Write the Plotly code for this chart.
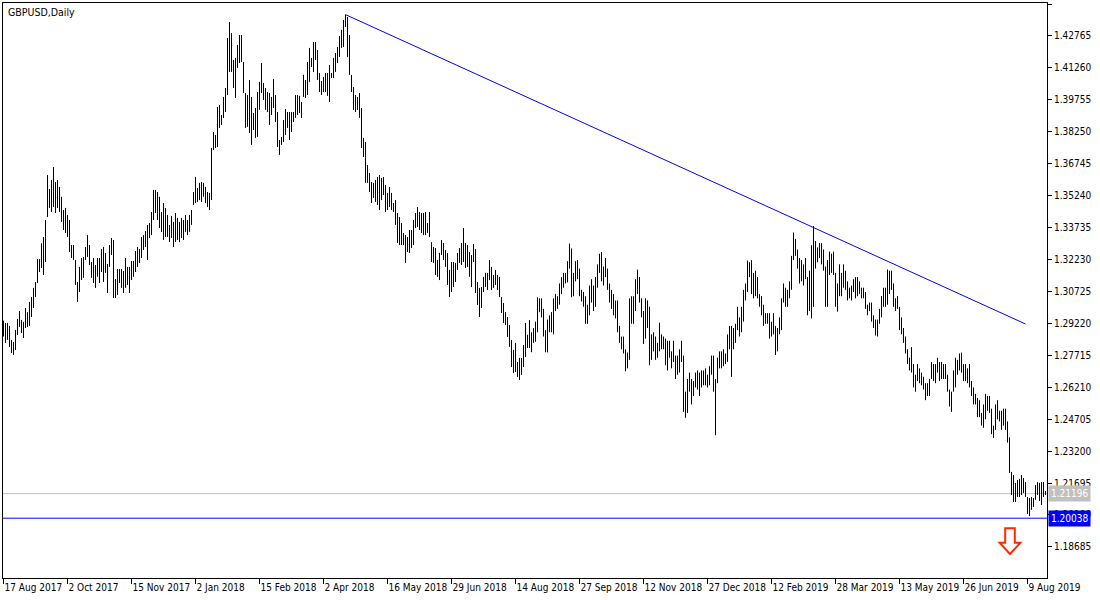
import plotly.graph_objects as go

# ---------------- data ----------------
chart_title = "GBPUSD,Daily"

x_tick_labels = ["17 Aug 2017", "2 Oct 2017", "15 Nov 2017", "2 Jan 2018", "15 Feb 2018",
                 "2 Apr 2018", "16 May 2018", "29 Jun 2018", "14 Aug 2018", "27 Sep 2018",
                 "12 Nov 2018", "27 Dec 2018", "12 Feb 2019", "28 Mar 2019", "13 May 2019",
                 "26 Jun 2019", "9 Aug 2019"]
x_tick_bars = [0, 32, 64, 96, 128, 160, 192, 224, 256, 288, 320, 352, 384, 416, 448, 480, 512]

y_tick_values = [1.44270, 1.42765, 1.41260, 1.39755, 1.38250, 1.36745, 1.35240, 1.33735,
                 1.32230, 1.30725, 1.29220, 1.27715, 1.26210, 1.24705, 1.23200, 1.21695,
                 1.20190, 1.18685]

highs = [
    1.2935,
    1.2924, 1.2924, 1.2910, 1.2844, 1.2834, 1.2891, 1.2943, 1.2980, 1.2938, 1.2929,
    1.2994, 1.2975, 1.3023, 1.3046, 1.3089, 1.3117, 1.3225, 1.3225, 1.3300, 1.3329,
    1.3409, 1.3621, 1.3555, 1.3598, 1.3659, 1.3588, 1.3598, 1.3565, 1.3518, 1.3456,
    1.3466, 1.3433, 1.3409, 1.3291, 1.3291, 1.3221, 1.3117, 1.3188, 1.3230, 1.3235,
    1.3282, 1.3338, 1.3291, 1.3211, 1.3230, 1.3197, 1.3230, 1.3230, 1.3272, 1.3282,
    1.3254, 1.3202, 1.3291, 1.3324, 1.3315, 1.3131, 1.3178, 1.3178, 1.3178, 1.3169,
    1.3230, 1.3188, 1.3188, 1.3216, 1.3216, 1.3263, 1.3282, 1.3272, 1.3329, 1.3338,
    1.3357, 1.3386, 1.3395, 1.3447, 1.3551, 1.3551, 1.3541, 1.3518, 1.3447, 1.3489,
    1.3466, 1.3433, 1.3386, 1.3428, 1.3400, 1.3442, 1.3419, 1.3400, 1.3419, 1.3409,
    1.3433, 1.3409, 1.3433, 1.3456, 1.3541, 1.3612, 1.3560, 1.3584, 1.3588, 1.3584,
    1.3565, 1.3541, 1.3537, 1.3748, 1.3824, 1.3810, 1.3942, 1.3951, 1.3904, 1.3989,
    1.4031, 1.4267, 1.4342, 1.4290, 1.4163, 1.4173, 1.4234, 1.4281, 1.4281, 1.4154,
    1.4008, 1.3998, 1.4069, 1.3989, 1.3913, 1.3937, 1.4012, 1.4060, 1.4149, 1.4055,
    1.4031, 1.4012, 1.4008, 1.3989, 1.4074, 1.3998, 1.3918, 1.3786, 1.3800, 1.3880,
    1.3932, 1.3918, 1.3918, 1.3918, 1.3918, 1.3998, 1.3998, 1.3994, 1.3965, 1.4093,
    1.4069, 1.4154, 1.4220, 1.4173, 1.4248, 1.4248, 1.4210, 1.4102, 1.4064, 1.4083,
    1.4102, 1.4102, 1.4140, 1.4102, 1.4173, 1.4196, 1.4224, 1.4276, 1.4305, 1.4352,
    1.4377, 1.4366, 1.4281, 1.4093, 1.4036, 1.3998, 1.3989, 1.4008, 1.3937, 1.3796,
    1.3777, 1.3668, 1.3631, 1.3588, 1.3584, 1.3598, 1.3612, 1.3621, 1.3607, 1.3612,
    1.3574, 1.3537, 1.3565, 1.3537, 1.3489, 1.3503, 1.3442, 1.3423, 1.3395, 1.3348,
    1.3338, 1.3329, 1.3362, 1.3362, 1.3409, 1.3442, 1.3470, 1.3447, 1.3442, 1.3442,
    1.3447, 1.3395, 1.3447, 1.3305, 1.3282, 1.3277, 1.3221, 1.3254, 1.3315, 1.3301,
    1.3268, 1.3254, 1.3174, 1.3211, 1.3211, 1.3207, 1.3254, 1.3277, 1.3301, 1.3371,
    1.3301, 1.3291, 1.3258, 1.3244, 1.3296, 1.3272, 1.3117, 1.3089, 1.3093, 1.3141,
    1.3160, 1.3160, 1.3221, 1.3188, 1.3150, 1.3174, 1.3150, 1.3141, 1.3046, 1.3018,
    1.2975, 1.2952, 1.2914, 1.2844, 1.2797, 1.2830, 1.2740, 1.2759, 1.2759, 1.2820,
    1.2924, 1.2868, 1.2938,
    1.2880, 1.2900, 1.2930, 1.3045, 1.3040, 1.3040, 1.2990, 1.2890, 1.2940, 1.2960,
    1.2975, 1.3040, 1.3060, 1.3050, 1.3110, 1.3140, 1.3160, 1.3160, 1.3215, 1.3298,
    1.3275, 1.3160, 1.3215, 1.3220, 1.3180, 1.3080, 1.3070, 1.3050, 1.3010, 1.3100,
    1.3130, 1.3100, 1.3140, 1.3200, 1.3250, 1.3258, 1.3190, 1.3230, 1.3180, 1.3110,
    1.3080, 1.3060, 1.3030, 1.3030, 1.2910, 1.2860, 1.2860, 1.2800, 1.2785, 1.3040,
    1.3050, 1.3050, 1.3130, 1.3175, 1.3140, 1.3040, 1.2980, 1.3040, 1.3030, 1.3000,
    1.2870, 1.2880, 1.2860, 1.2830, 1.2925, 1.2870, 1.2860, 1.2850, 1.2840, 1.2840,
    1.2790, 1.2840, 1.2770, 1.2770, 1.2800, 1.2840, 1.2770, 1.2600, 1.2660, 1.2690,
    1.2660, 1.2650, 1.2690, 1.2700, 1.2690, 1.2700, 1.2700, 1.2710, 1.2680, 1.2720,
    1.2770, 1.2770, 1.2660, 1.2760, 1.2790, 1.2790, 1.2800, 1.2780, 1.2870, 1.2910,
    1.2910, 1.2900, 1.2920, 1.3000, 1.2950, 1.3000, 1.3080, 1.3110, 1.3218, 1.3210,
    1.3220, 1.3160, 1.3170, 1.3140, 1.3060, 1.3050, 1.3010, 1.2970, 1.2970, 1.2970,
    1.2930, 1.2970, 1.2910, 1.2900, 1.2950, 1.3040, 1.3110, 1.3090, 1.3080, 1.3120,
    1.3240, 1.3350, 1.3320, 1.3270, 1.3230, 1.3220, 1.3200, 1.3230, 1.3140, 1.3170,
    1.3290, 1.3381, 1.3310, 1.3280, 1.3300, 1.3300, 1.3270, 1.3190, 1.3220, 1.3260,
    1.3250, 1.3260, 1.3160, 1.3110, 1.3200, 1.3160, 1.3200, 1.3170, 1.3120, 1.3090,
    1.3100, 1.3130, 1.3140, 1.3140, 1.3120, 1.3090, 1.3090, 1.3070, 1.3010, 1.3020,
    1.3020, 1.2960, 1.2940, 1.2940, 1.2990, 1.3050, 1.3090, 1.3090, 1.3176, 1.3170,
    1.3170, 1.3110, 1.3040, 1.3050, 1.3000, 1.2950, 1.2900, 1.2860, 1.2800, 1.2760,
    1.2810, 1.2730, 1.2680, 1.2730, 1.2710, 1.2690, 1.2670, 1.2640, 1.2640, 1.2660,
    1.2740, 1.2730, 1.2730, 1.2760, 1.2740, 1.2740, 1.2730, 1.2730, 1.2680, 1.2610,
    1.2600, 1.2700, 1.2760, 1.2750, 1.2780, 1.2784, 1.2730, 1.2730, 1.2710, 1.2730,
    1.2650, 1.2620, 1.2590, 1.2570, 1.2560, 1.2500, 1.2540, 1.2590, 1.2580, 1.2580,
    1.2520, 1.2440, 1.2540, 1.2560, 1.2510, 1.2510, 1.2520, 1.2520, 1.2460,
    1.2385, 1.2222, 1.2207, 1.2170, 1.2184, 1.2189, 1.2207, 1.2193, 1.2174, 1.2104,
    1.2099, 1.2104, 1.2099, 1.2160, 1.2174, 1.2170, 1.2174, 1.2174, 1.2132,
]

lows = [
    1.2860,
    1.2830, 1.2844, 1.2811, 1.2782, 1.2773, 1.2797, 1.2867, 1.2905, 1.2877, 1.2853,
    1.2900, 1.2905, 1.2910, 1.2952, 1.2994, 1.3046, 1.3112, 1.3164, 1.3183, 1.3150,
    1.3211, 1.3423, 1.3466, 1.3447, 1.3470, 1.3442, 1.3466, 1.3447, 1.3400, 1.3362,
    1.3348, 1.3329, 1.3258, 1.3230, 1.3221, 1.3103, 1.3023, 1.3070, 1.3126, 1.3136,
    1.3221, 1.3235, 1.3197, 1.3136, 1.3112, 1.3089, 1.3141, 1.3112, 1.3164, 1.3117,
    1.3160, 1.3065, 1.3188, 1.3244, 1.3042, 1.3042, 1.3056, 1.3112, 1.3089, 1.3065,
    1.3089, 1.3103, 1.3065, 1.3126, 1.3141, 1.3164, 1.3188, 1.3206, 1.3230, 1.3268,
    1.3282, 1.3221, 1.3324, 1.3338, 1.3409, 1.3442, 1.3409, 1.3371, 1.3353, 1.3315,
    1.3329, 1.3329, 1.3305, 1.3324, 1.3282, 1.3305, 1.3315, 1.3305, 1.3324, 1.3315,
    1.3353, 1.3338, 1.3353, 1.3386, 1.3480, 1.3489, 1.3494, 1.3503, 1.3494, 1.3518,
    1.3489, 1.3470, 1.3456, 1.3503, 1.3739, 1.3748, 1.3753, 1.3843, 1.3857, 1.3890,
    1.3918, 1.3998, 1.4107, 1.4107, 1.4031, 1.3984, 1.4126, 1.4149, 1.4154, 1.4008,
    1.3843, 1.3848, 1.3819, 1.3763, 1.3833, 1.3796, 1.3801, 1.3928, 1.4008, 1.3975,
    1.3928, 1.3918, 1.3857, 1.3904, 1.3937, 1.3871, 1.3753, 1.3716, 1.3763, 1.3777,
    1.3810, 1.3843, 1.3786, 1.3824, 1.3871, 1.3890, 1.3904, 1.3913, 1.3890, 1.3989,
    1.3984, 1.3998, 1.4060, 1.4130, 1.4107, 1.4163, 1.4069, 1.4012, 1.3998, 1.4012,
    1.4012, 1.3994, 1.3965, 1.4078, 1.4078, 1.4107, 1.4149, 1.4177, 1.4220, 1.4224,
    1.4319, 1.4177, 1.4093, 1.4012, 1.3928, 1.3918, 1.3928, 1.3890, 1.3748, 1.3706,
    1.3584, 1.3584, 1.3541, 1.3489, 1.3513, 1.3494, 1.3480, 1.3456, 1.3503, 1.3527,
    1.3447, 1.3456, 1.3470, 1.3456, 1.3447, 1.3386, 1.3301, 1.3291, 1.3291, 1.3291,
    1.3207, 1.3258, 1.3254, 1.3277, 1.3291, 1.3371, 1.3376, 1.3362, 1.3348, 1.3338,
    1.3338, 1.3348, 1.3329, 1.3211, 1.3207, 1.3150, 1.3141, 1.3126, 1.3244, 1.3221,
    1.3188, 1.3103, 1.3046, 1.3070, 1.3093, 1.3117, 1.3174, 1.3207, 1.3197, 1.3211,
    1.3183, 1.3188, 1.3141, 1.3093, 1.3211, 1.3065, 1.3009, 1.2952, 1.2994, 1.3070,
    1.3093, 1.3079, 1.3126, 1.3079, 1.3089, 1.3103, 1.3079, 1.3046, 1.2971, 1.2924,
    1.2914, 1.2858, 1.2811, 1.2716, 1.2688, 1.2693, 1.2669, 1.2655, 1.2679, 1.2716,
    1.2763, 1.2806, 1.2806,
    1.2786, 1.2830, 1.2835, 1.2880, 1.2975, 1.2950, 1.2860, 1.2786, 1.2785, 1.2880,
    1.2880, 1.2870, 1.2980, 1.2990, 1.3010, 1.3060, 1.3090, 1.3110, 1.3115, 1.3180,
    1.3045, 1.3050, 1.3120, 1.3130, 1.3050, 1.3025, 1.3000, 1.2920, 1.2920, 1.2960,
    1.3020, 1.2980, 1.3000, 1.3090, 1.3160, 1.3120, 1.3100, 1.3140, 1.3080, 1.3020,
    1.2990, 1.2960, 1.2945, 1.2880, 1.2830, 1.2800, 1.2780, 1.2696, 1.2710, 1.2750,
    1.2920, 1.2920, 1.2980, 1.3060, 1.3020, 1.2950, 1.2825, 1.2850, 1.2900, 1.2725,
    1.2750, 1.2790, 1.2750, 1.2760, 1.2790, 1.2800, 1.2800, 1.2725, 1.2700, 1.2760,
    1.2710, 1.2740, 1.2660, 1.2680, 1.2690, 1.2740, 1.2505, 1.2477, 1.2500, 1.2600,
    1.2540, 1.2580, 1.2620, 1.2610, 1.2580, 1.2620, 1.2630, 1.2630, 1.2620, 1.2630,
    1.2680, 1.2600, 1.2395, 1.2640, 1.2710, 1.2710, 1.2720, 1.2730, 1.2740, 1.2800,
    1.2670, 1.2800, 1.2830, 1.2890, 1.2860, 1.2880, 1.2930, 1.3030, 1.3070, 1.3140,
    1.3060, 1.3040, 1.3050, 1.3040, 1.3000, 1.2960, 1.2910, 1.2920, 1.2920, 1.2850,
    1.2860, 1.2870, 1.2773, 1.2790, 1.2870, 1.2890, 1.3020, 1.3000, 1.3000, 1.3040,
    1.3080, 1.3220, 1.3240, 1.3180, 1.3110, 1.3120, 1.3100, 1.3130, 1.2960, 1.2980,
    1.2945, 1.3000, 1.3180, 1.3210, 1.3230, 1.3200, 1.3170, 1.3000, 1.3000, 1.3150,
    1.3160, 1.3150, 1.3000, 1.2977, 1.3050, 1.3050, 1.3090, 1.3080, 1.3030, 1.3040,
    1.3030, 1.3070, 1.3040, 1.3050, 1.3060, 1.3040, 1.3040, 1.2990, 1.2960, 1.2980,
    1.2930, 1.2900, 1.2865, 1.2860, 1.2920, 1.2950, 1.3000, 1.3000, 1.3010, 1.3060,
    1.3080, 1.3000, 1.2980, 1.2990, 1.2890, 1.2870, 1.2830, 1.2780, 1.2730, 1.2700,
    1.2690, 1.2620, 1.2600, 1.2650, 1.2640, 1.2630, 1.2610, 1.2560, 1.2580, 1.2580,
    1.2660, 1.2650, 1.2640, 1.2690, 1.2650, 1.2660, 1.2660, 1.2660, 1.2600, 1.2530,
    1.2505, 1.2600, 1.2620, 1.2680, 1.2700, 1.2690, 1.2650, 1.2650, 1.2640, 1.2620,
    1.2580, 1.2540, 1.2540, 1.2480, 1.2480, 1.2440, 1.2430, 1.2470, 1.2510, 1.2500,
    1.2400, 1.2382, 1.2420, 1.2470, 1.2460, 1.2420, 1.2440, 1.2420, 1.2360,
    1.2217, 1.2113, 1.2080, 1.2080, 1.2104, 1.2104, 1.2113, 1.2123, 1.2104, 1.2024,
    1.2014, 1.2043, 1.2057, 1.2090, 1.2113, 1.2085, 1.2066, 1.2104, 1.2113,
]

bid_price = 1.21196          # current price line (grey)
level_price = 1.20038        # horizontal support level (blue)
trend_bars = [171, 511]      # trendline anchors (bar index)
trend_prices = [1.4377, 1.2919]
arrow_bar = 503.25           # sell arrow anchor
arrow_top = 1.1956

# ---------------- figure ----------------
FONT = "DejaVu Sans Condensed, Liberation Sans, Arial, sans-serif"

bx, by = [], []
for i, (h, l) in enumerate(zip(highs, lows)):
    bx += [i, i, None]
    by += [l, h, None]

fig = go.Figure()
fig.add_trace(go.Scatter(x=bx, y=by, mode="lines", line=dict(color="#000000", width=1),
                         hoverinfo="skip", showlegend=False))

fig.add_trace(go.Scatter(x=trend_bars, y=trend_prices, mode="lines",
                         line=dict(color="#0000ff", width=1), hoverinfo="skip", showlegend=False))

# horizontal lines
fig.add_shape(type="line", xref="paper", x0=0, x1=1, y0=bid_price, y1=bid_price,
              line=dict(color="#c0c0c0", width=1), layer="below")
fig.add_shape(type="line", xref="paper", x0=0, x1=1, y0=level_price, y1=level_price,
              line=dict(color="#0000ff", width=1))

# sell arrow (outline)
sw, hw = 2.4, 5.2          # half widths in bars
ys = arrow_top - 0.0068    # shaft bottom
yt = arrow_top - 0.0121    # tip
path = (f"M {arrow_bar-sw},{arrow_top} L {arrow_bar+sw},{arrow_top} L {arrow_bar+sw},{ys} "
        f"L {arrow_bar+hw},{ys} L {arrow_bar},{yt} L {arrow_bar-hw},{ys} L {arrow_bar-sw},{ys} Z")
fig.add_shape(type="path", path=path, line=dict(color="#ff2a00", width=2), fillcolor="white")

# price labels
fig.add_annotation(xref="paper", x=1, y=bid_price, yref="y", xanchor="left", xshift=1,
                   text=f"{bid_price:.5f}", showarrow=False, bgcolor="#c0c0c0",
                   font=dict(family=FONT, size=10, color="white"), borderpad=2)
fig.add_annotation(xref="paper", x=1, y=level_price, yref="y", xanchor="left", xshift=1,
                   text=f"{level_price:.5f}", showarrow=False, bgcolor="#0000ff",
                   font=dict(family=FONT, size=10, color="white"), borderpad=2)

fig.add_annotation(xref="paper", yref="paper", x=0, y=1, xanchor="left", yanchor="top",
                   xshift=3, yshift=-1, text=chart_title, showarrow=False,
                   font=dict(family=FONT, size=10.5, color="black"))

fig.update_layout(
    width=1100, height=600,
    margin=dict(l=3, r=53, t=3, b=22, autoexpand=False),
    paper_bgcolor="white", plot_bgcolor="white",
    showlegend=False,
    font=dict(family=FONT, size=10, color="black"),
    xaxis=dict(range=[-0.25, 521.75], showgrid=False, zeroline=False, automargin=False,
               showline=True, linecolor="black", linewidth=1, mirror=True,
               ticks="outside", ticklen=5, tickcolor="black", tickwidth=1,
               tickvals=x_tick_bars, ticktext=x_tick_labels, tickangle=0,
               ticklabelposition="outside right",
               tickfont=dict(family=FONT, size=10, color="black")),
    yaxis=dict(range=[1.17220, 1.44317], side="right", showgrid=False, zeroline=False,
               automargin=False,
               showline=True, linecolor="black", linewidth=1, mirror=True,
               ticks="outside", ticklen=4, tickcolor="black", tickwidth=1,
               tickvals=y_tick_values, ticktext=[f"{v:.5f}" for v in y_tick_values],
               tickfont=dict(family=FONT, size=10, color="black")),
)

fig.write_html("out.html", config={"displayModeBar": False},
               post_script="document.body.style.margin='0px';document.body.style.overflow='hidden';")
